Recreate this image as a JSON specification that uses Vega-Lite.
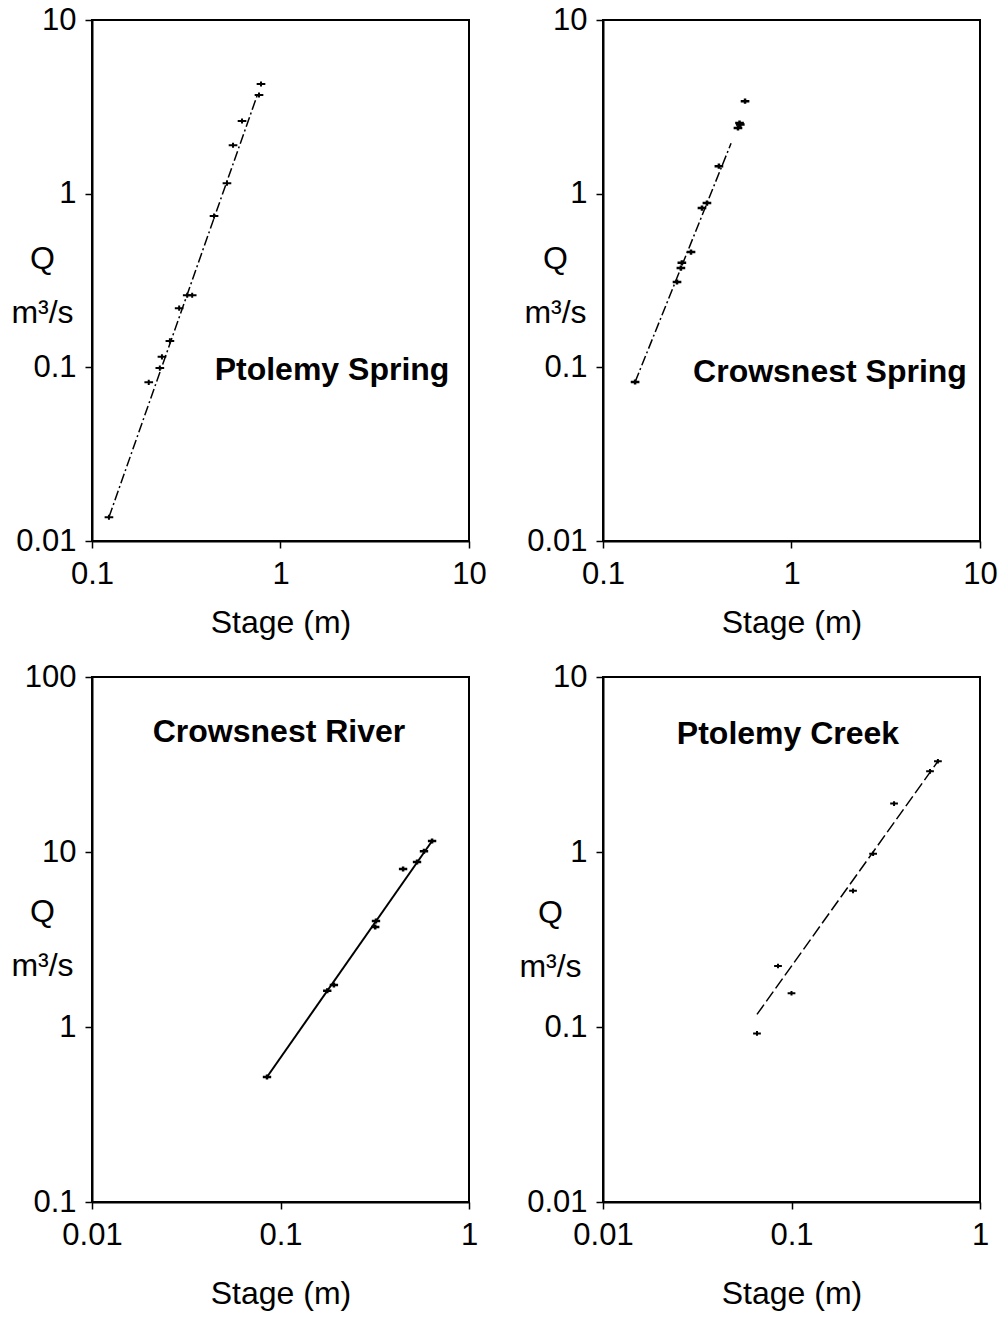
{
  "$schema": "https://vega.github.io/schema/vega-lite/v6.json",
  "background": "white",
  "padding": {"left": 9, "top": 3, "right": 5, "bottom": 5},
  "datasets": {
    "ps": [
      {"stage": 0.123, "q": 0.0137},
      {"stage": 0.2, "q": 0.082},
      {"stage": 0.229, "q": 0.099},
      {"stage": 0.235, "q": 0.115},
      {"stage": 0.259, "q": 0.142},
      {"stage": 0.29, "q": 0.219},
      {"stage": 0.32, "q": 0.26},
      {"stage": 0.34, "q": 0.26},
      {"stage": 0.444, "q": 0.743},
      {"stage": 0.52, "q": 1.15},
      {"stage": 0.56, "q": 1.9},
      {"stage": 0.625, "q": 2.62},
      {"stage": 0.769, "q": 3.7},
      {"stage": 0.788, "q": 4.28}
    ],
    "ps_fit": [{"stage": 0.123, "q": 0.0137}, {"stage": 0.76, "q": 3.8}],
    "cs": [
      {"stage": 0.148, "q": 0.0823},
      {"stage": 0.247, "q": 0.31},
      {"stage": 0.259, "q": 0.373},
      {"stage": 0.262, "q": 0.4},
      {"stage": 0.293, "q": 0.461},
      {"stage": 0.335, "q": 0.826},
      {"stage": 0.356, "q": 0.883},
      {"stage": 0.412, "q": 1.44},
      {"stage": 0.52, "q": 2.39},
      {"stage": 0.535, "q": 2.5},
      {"stage": 0.53, "q": 2.55},
      {"stage": 0.567, "q": 3.41}
    ],
    "cs_fit": [{"stage": 0.148, "q": 0.0823}, {"stage": 0.478, "q": 1.95}],
    "cr": [
      {"stage": 0.0848, "q": 0.518},
      {"stage": 0.177, "q": 1.61},
      {"stage": 0.192, "q": 1.74},
      {"stage": 0.318, "q": 3.73},
      {"stage": 0.321, "q": 4.03},
      {"stage": 0.447, "q": 8.0},
      {"stage": 0.53, "q": 8.77},
      {"stage": 0.577, "q": 10.1},
      {"stage": 0.637, "q": 11.56}
    ],
    "cr_fit": [{"stage": 0.0848, "q": 0.518}, {"stage": 0.637, "q": 11.56}],
    "pc": [
      {"stage": 0.0656, "q": 0.0919},
      {"stage": 0.0848, "q": 0.223},
      {"stage": 0.1, "q": 0.156},
      {"stage": 0.212, "q": 0.6},
      {"stage": 0.271, "q": 0.977},
      {"stage": 0.35, "q": 1.89},
      {"stage": 0.543, "q": 2.89},
      {"stage": 0.598, "q": 3.3}
    ],
    "pc_fit": [{"stage": 0.0656, "q": 0.118}, {"stage": 0.598, "q": 3.3}]
  },
  "config": {
    "font": "Liberation Sans",
    "view": {"stroke": "black", "strokeWidth": 2},
    "axis": {
      "grid": false,
      "labelFont": "Liberation Sans",
      "titleFont": "Liberation Sans",
      "labelFontSize": 31,
      "titleFontSize": 32,
      "titleFontWeight": "normal",
      "labelColor": "black",
      "titleColor": "black",
      "domainColor": "black",
      "domainWidth": 2,
      "tickColor": "black",
      "tickWidth": 1.5,
      "tickSize": 7,
      "labelFlush": false,
      "labelOverlap": false,
      "format": "~g"
    },
    "axisX": {"labelPadding": 11},
    "axisY": {"labelPadding": 9, "titleAngle": 0, "titleAlign": "center", "titleBaseline": "alphabetic", "titleLineHeight": 54}
  },
  "bounds": "flush",
  "columns": 2,
  "spacing": {"row": 136, "column": 134},
  "concat": [
    {
      "width": 377, "height": 521,
      "encoding": {
        "x": {"field": "stage", "type": "quantitative", "scale": {"type": "log", "domain": [0.1, 10], "nice": false}, "axis": {"values": [0.1, 1, 10], "title": "Stage (m)", "titlePadding": 18}},
        "y": {"field": "q", "type": "quantitative", "scale": {"type": "log", "domain": [0.01, 10], "nice": false}, "axis": {"values": [0.01, 0.1, 1, 10], "title": ["Q", "m³/s"], "titleX": -50, "titleY": 248}}
      },
      "layer": [
        {"data": {"name": "ps_fit"}, "mark": {"type": "line", "color": "black", "strokeWidth": 1.5, "strokeDash": [10, 3, 2, 3]}},
        {"data": {"name": "ps"}, "mark": {"type": "point", "shape": "M-1,0L1,0M0,-0.6L0,0.6", "filled": false, "color": "black", "strokeWidth": 2, "size": 75, "opacity": 1}},
        {"data": {"values": [{"label": "Ptolemy Spring", "stage": 1.876, "q": 0.0964}]}, "mark": {"type": "text", "fontSize": 32, "fontWeight": "bold", "color": "black", "align": "center", "baseline": "middle"}, "encoding": {"text": {"field": "label"}}}
      ]
    },
    {
      "width": 377, "height": 521,
      "encoding": {
        "x": {"field": "stage", "type": "quantitative", "scale": {"type": "log", "domain": [0.1, 10], "nice": false}, "axis": {"values": [0.1, 1, 10], "title": "Stage (m)", "titlePadding": 18}},
        "y": {"field": "q", "type": "quantitative", "scale": {"type": "log", "domain": [0.01, 10], "nice": false}, "axis": {"values": [0.01, 0.1, 1, 10], "title": ["Q", "m³/s"], "titleX": -48, "titleY": 248}}
      },
      "layer": [
        {"data": {"name": "cs_fit"}, "mark": {"type": "line", "color": "black", "strokeWidth": 1.5, "strokeDash": [10, 3, 2, 3]}},
        {"data": {"name": "cs"}, "mark": {"type": "point", "shape": "M-1,0L1,0M0,-0.6L0,0.6", "filled": false, "color": "black", "strokeWidth": 2.5, "size": 75, "opacity": 1}},
        {"data": {"values": [{"label": "Crowsnest Spring", "stage": 1.6, "q": 0.094}]}, "mark": {"type": "text", "fontSize": 32, "fontWeight": "bold", "color": "black", "align": "center", "baseline": "middle"}, "encoding": {"text": {"field": "label"}}}
      ]
    },
    {
      "width": 377, "height": 525,
      "encoding": {
        "x": {"field": "stage", "type": "quantitative", "scale": {"type": "log", "domain": [0.01, 1], "nice": false}, "axis": {"values": [0.01, 0.1, 1], "title": "Stage (m)", "titlePadding": 28}},
        "y": {"field": "q", "type": "quantitative", "scale": {"type": "log", "domain": [0.1, 100], "nice": false}, "axis": {"values": [0.1, 1, 10, 100], "title": ["Q", "m³/s"], "titleX": -50, "titleY": 244}}
      },
      "layer": [
        {"data": {"name": "cr_fit"}, "mark": {"type": "line", "color": "black", "strokeWidth": 2}},
        {"data": {"name": "cr"}, "mark": {"type": "point", "shape": "M-1,0L1,0M0,-0.6L0,0.6", "filled": false, "color": "black", "strokeWidth": 2.5, "size": 70, "opacity": 1}},
        {"data": {"values": [{"label": "Crowsnest River", "stage": 0.0982, "q": 48.5}]}, "mark": {"type": "text", "fontSize": 32, "fontWeight": "bold", "color": "black", "align": "center", "baseline": "middle"}, "encoding": {"text": {"field": "label"}}}
      ]
    },
    {
      "width": 377, "height": 525,
      "encoding": {
        "x": {"field": "stage", "type": "quantitative", "scale": {"type": "log", "domain": [0.01, 1], "nice": false}, "axis": {"values": [0.01, 0.1, 1], "title": "Stage (m)", "titlePadding": 28}},
        "y": {"field": "q", "type": "quantitative", "scale": {"type": "log", "domain": [0.01, 10], "nice": false}, "axis": {"values": [0.01, 0.1, 1, 10], "title": ["Q", "m³/s"], "titleX": -53, "titleY": 245}}
      },
      "layer": [
        {"data": {"name": "pc_fit"}, "mark": {"type": "line", "color": "black", "strokeWidth": 1.5, "strokeDash": [12, 4]}},
        {"data": {"name": "pc"}, "mark": {"type": "point", "shape": "M-1,0L1,0M0,-0.6L0,0.6", "filled": false, "color": "black", "strokeWidth": 2, "size": 60, "opacity": 1}},
        {"data": {"values": [{"label": "Ptolemy Creek", "stage": 0.0958, "q": 4.71}]}, "mark": {"type": "text", "fontSize": 32, "fontWeight": "bold", "color": "black", "align": "center", "baseline": "middle"}, "encoding": {"text": {"field": "label"}}}
      ]
    }
  ]
}
